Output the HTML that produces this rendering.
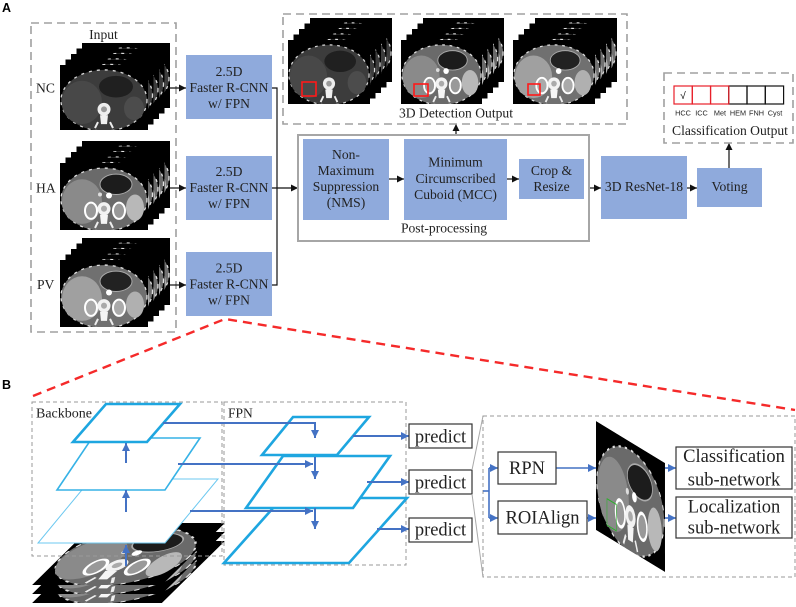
<!DOCTYPE html>
<html><head><meta charset="utf-8"><style>
html,body{margin:0;padding:0;background:#fff;}
svg{display:block;}
text{font-family:"Liberation Serif",serif;fill:#222;}
.s{font-family:"Liberation Sans",sans-serif;}
</style></head><body>
<svg width="796" height="607" viewBox="0 0 796 607" xmlns="http://www.w3.org/2000/svg" xmlns:xlink="http://www.w3.org/1999/xlink">
<defs>
<marker id="ak" markerUnits="userSpaceOnUse" markerWidth="8" markerHeight="7" refX="7" refY="3.5" orient="auto"><path d="M0,0 L7,3.5 L0,7 z" fill="#111"/></marker>
<marker id="ab" markerUnits="userSpaceOnUse" markerWidth="9" markerHeight="8" refX="8" refY="4" orient="auto"><path d="M0,0 L8,4 L0,8 z" fill="#4472c4"/></marker>
<symbol id="ctNC" viewBox="0 0 88 66" preserveAspectRatio="none">
<rect width="88" height="66" fill="#000"/>
<ellipse cx="44" cy="36" rx="43" ry="31" fill="#3c3c3c" stroke="#d8d8d8" stroke-width="1.3" stroke-dasharray="3 5"/>
<ellipse cx="22" cy="38" rx="20" ry="22" fill="#484848"/>
<ellipse cx="56" cy="22" rx="17" ry="11" fill="#202020"/>
<ellipse cx="74" cy="44" rx="10" ry="12" fill="#4c4c4c"/>
<circle cx="44" cy="45" r="6.5" fill="#eee"/><circle cx="44" cy="45" r="3" fill="#999"/>
<path d="M40,51 h8 l-1,9 h-6 z" fill="#f0f0f0"/>
<path d="M38,58 l-3,6 M50,58 l3,6" stroke="#eee" stroke-width="2"/>
</symbol>
<symbol id="ctHA" viewBox="0 0 88 66" preserveAspectRatio="none">
<rect width="88" height="66" fill="#000"/>
<ellipse cx="44" cy="36" rx="43" ry="31" fill="#6a6a6a" stroke="#e0e0e0" stroke-width="1.3" stroke-dasharray="3 5"/>
<ellipse cx="22" cy="38" rx="20" ry="22" fill="#8a8a8a"/>
<ellipse cx="56" cy="21" rx="16" ry="10" fill="#1c1c1c" stroke="#aaa" stroke-width="1"/>
<ellipse cx="75" cy="44" rx="9" ry="13" fill="#b8b8b8"/>
<ellipse cx="31" cy="47" rx="6" ry="8" fill="#999" stroke="#fff" stroke-width="2"/>
<ellipse cx="59" cy="47" rx="6" ry="8" fill="#999" stroke="#fff" stroke-width="2"/>
<circle cx="49" cy="32" r="3" fill="#fff"/><circle cx="40" cy="31" r="2" fill="#ddd"/>
<circle cx="44" cy="45" r="6.5" fill="#f2f2f2"/><circle cx="44" cy="45" r="3" fill="#aaa"/>
<path d="M40,51 h8 l-1,9 h-6 z" fill="#f5f5f5"/>
<path d="M38,58 l-3,6 M50,58 l3,6" stroke="#eee" stroke-width="2"/>
</symbol>
<symbol id="ctPV" viewBox="0 0 88 66" preserveAspectRatio="none">
<rect width="88" height="66" fill="#000"/>
<ellipse cx="44" cy="36" rx="43" ry="31" fill="#707070" stroke="#e0e0e0" stroke-width="1.3" stroke-dasharray="3 5"/>
<ellipse cx="22" cy="38" rx="20" ry="22" fill="#a0a0a0"/>
<ellipse cx="56" cy="21" rx="16" ry="10" fill="#222" stroke="#aaa" stroke-width="1"/>
<ellipse cx="75" cy="44" rx="9" ry="13" fill="#b0b0b0"/>
<ellipse cx="31" cy="47" rx="6" ry="8" fill="#aaa" stroke="#fff" stroke-width="2"/>
<ellipse cx="59" cy="47" rx="6" ry="8" fill="#aaa" stroke="#fff" stroke-width="2"/>
<circle cx="49" cy="32" r="3" fill="#fff"/>
<circle cx="44" cy="45" r="6.5" fill="#f2f2f2"/><circle cx="44" cy="45" r="3" fill="#aaa"/>
<path d="M40,51 h8 l-1,9 h-6 z" fill="#f5f5f5"/>
<path d="M38,58 l-3,6 M50,58 l3,6" stroke="#eee" stroke-width="2"/>
</symbol>
</defs>

<!-- ===== A ===== -->
<text x="2" y="12" class="s" style="font-size:12.5px;font-weight:bold;fill:#000">A</text>

<!-- Input box -->
<rect x="31" y="23" width="145" height="309" fill="none" stroke="#a0a0a0" stroke-width="1.6" stroke-dasharray="8 5"/>
<text x="103.5" y="39" text-anchor="middle" style="font-size:13.6px">Input</text>
<text x="36" y="92.5" style="font-size:13.6px">NC</text>
<text x="36" y="192.5" style="font-size:13.6px">HA</text>
<text x="37" y="289" style="font-size:13.6px">PV</text>

<!-- NC stack -->
<use xlink:href="#ctNC" href="#ctNC" x="82" y="43" width="88" height="65"/>
<use xlink:href="#ctNC" href="#ctNC" x="76.5" y="48.5" width="88" height="65"/>
<use xlink:href="#ctNC" href="#ctNC" x="71" y="54" width="88" height="65"/>
<use xlink:href="#ctNC" href="#ctNC" x="65.5" y="59.5" width="88" height="65"/>
<use xlink:href="#ctNC" href="#ctNC" x="60" y="65" width="88" height="65"/>
<!-- HA stack -->
<use xlink:href="#ctHA" href="#ctHA" x="82" y="141" width="88" height="67"/>
<use xlink:href="#ctHA" href="#ctHA" x="76.5" y="146.5" width="88" height="67"/>
<use xlink:href="#ctHA" href="#ctHA" x="71" y="152" width="88" height="67"/>
<use xlink:href="#ctHA" href="#ctHA" x="65.5" y="157.5" width="88" height="67"/>
<use xlink:href="#ctHA" href="#ctHA" x="60" y="163" width="88" height="67"/>
<!-- PV stack -->
<use xlink:href="#ctPV" href="#ctPV" x="82" y="238" width="88" height="67"/>
<use xlink:href="#ctPV" href="#ctPV" x="76.5" y="243.5" width="88" height="67"/>
<use xlink:href="#ctPV" href="#ctPV" x="71" y="249" width="88" height="67"/>
<use xlink:href="#ctPV" href="#ctPV" x="65.5" y="254.5" width="88" height="67"/>
<use xlink:href="#ctPV" href="#ctPV" x="60" y="260" width="88" height="67"/>

<!-- Faster R-CNN boxes -->
<g fill="#8faadc">
<rect x="186" y="55" width="86" height="64"/>
<rect x="186" y="156" width="86" height="64"/>
<rect x="186" y="252" width="86" height="64"/>
</g>
<g text-anchor="middle" style="font-size:13.6px">
<text x="229" y="76">2.5D</text><text x="229" y="92">Faster R-CNN</text><text x="229" y="108">w/ FPN</text>
<text x="229" y="176">2.5D</text><text x="229" y="192">Faster R-CNN</text><text x="229" y="208">w/ FPN</text>
<text x="229" y="272.5">2.5D</text><text x="229" y="288.5">Faster R-CNN</text><text x="229" y="304.5">w/ FPN</text>
</g>

<!-- black connectors -->
<g stroke="#111" stroke-width="1.2" fill="none">
<line x1="169" y1="88" x2="186" y2="88" marker-end="url(#ak)"/>
<line x1="170" y1="188" x2="186" y2="188" marker-end="url(#ak)"/>
<line x1="170" y1="285" x2="186" y2="285" marker-end="url(#ak)"/>
<polyline points="272,88 277,88 277,285 272,285"/>
<line x1="272" y1="188" x2="298" y2="188" marker-end="url(#ak)"/>
<line x1="389" y1="179" x2="404" y2="179" marker-end="url(#ak)"/>
<line x1="507" y1="179" x2="519" y2="179" marker-end="url(#ak)"/>
<line x1="589" y1="188" x2="601" y2="188" marker-end="url(#ak)"/>
<line x1="687" y1="188" x2="697" y2="188" marker-end="url(#ak)"/>
<line x1="729" y1="168" x2="729" y2="143" marker-end="url(#ak)"/>
<line x1="456" y1="135" x2="456" y2="124" marker-end="url(#ak)"/>
</g>

<!-- 3D Detection output -->
<rect x="283" y="14" width="344" height="110" fill="none" stroke="#a0a0a0" stroke-width="1.6" stroke-dasharray="8 5"/>
<use xlink:href="#ctNC" href="#ctNC" x="310" y="18" width="82" height="64"/>
<use xlink:href="#ctNC" href="#ctNC" x="304.5" y="23.5" width="82" height="64"/>
<use xlink:href="#ctNC" href="#ctNC" x="299" y="29" width="82" height="64"/>
<use xlink:href="#ctNC" href="#ctNC" x="293.5" y="34.5" width="82" height="64"/>
<use xlink:href="#ctNC" href="#ctNC" x="288" y="40" width="82" height="64"/>
<use xlink:href="#ctHA" href="#ctHA" x="423" y="18" width="81" height="64"/>
<use xlink:href="#ctHA" href="#ctHA" x="417.5" y="23.5" width="81" height="64"/>
<use xlink:href="#ctHA" href="#ctHA" x="412" y="29" width="81" height="64"/>
<use xlink:href="#ctHA" href="#ctHA" x="406.5" y="34.5" width="81" height="64"/>
<use xlink:href="#ctHA" href="#ctHA" x="401" y="40" width="81" height="64"/>
<use xlink:href="#ctPV" href="#ctPV" x="535" y="18" width="82" height="64"/>
<use xlink:href="#ctPV" href="#ctPV" x="529.5" y="23.5" width="82" height="64"/>
<use xlink:href="#ctPV" href="#ctPV" x="524" y="29" width="82" height="64"/>
<use xlink:href="#ctPV" href="#ctPV" x="518.5" y="34.5" width="82" height="64"/>
<use xlink:href="#ctPV" href="#ctPV" x="513" y="40" width="82" height="64"/>
<g fill="none" stroke="#ff1a1a" stroke-width="1.6">
<rect x="302" y="82" width="14" height="14"/>
<rect x="414" y="84" width="14" height="12"/>
<rect x="528" y="84" width="12" height="11"/>
</g>
<text x="456" y="117.5" text-anchor="middle" style="font-size:13.6px">3D Detection Output</text>

<!-- Post-processing -->
<rect x="298" y="135" width="291" height="106" fill="none" stroke="#a6a6a6" stroke-width="2"/>
<g fill="#8faadc">
<rect x="303" y="139" width="86" height="81"/>
<rect x="404" y="139" width="103" height="81"/>
<rect x="519" y="159" width="65" height="40"/>
<rect x="601" y="156" width="86" height="63"/>
<rect x="697" y="168" width="65" height="39"/>
</g>
<g text-anchor="middle" style="font-size:13.6px">
<text x="346" y="159">Non-</text><text x="346" y="175">Maximum</text><text x="346" y="191">Suppression</text><text x="346" y="207">(NMS)</text>
<text x="455.5" y="166.5">Minimum</text><text x="455.5" y="183">Circumscribed</text><text x="455.5" y="199">Cuboid (MCC)</text>
<text x="551.5" y="175">Crop &amp;</text><text x="551.5" y="191">Resize</text>
<text x="444" y="232.5">Post-processing</text>
<text x="644" y="191">3D ResNet-18</text>
<text x="729.5" y="191">Voting</text>
</g>

<!-- Classification output -->
<rect x="664" y="73" width="129" height="70" fill="none" stroke="#a0a0a0" stroke-width="1.6" stroke-dasharray="8 5"/>
<g fill="none" stroke-width="1.2">
<rect x="728.7" y="86" width="18.3" height="18" stroke="#111"/>
<rect x="747" y="86" width="18.3" height="18" stroke="#111"/>
<rect x="765.3" y="86" width="18.3" height="18" stroke="#111"/>
<rect x="674" y="86" width="18.3" height="18" stroke="#e8202a"/>
<rect x="692.3" y="86" width="18.3" height="18" stroke="#e8202a"/>
<rect x="710.5" y="86" width="18.3" height="18" stroke="#e8202a"/>
</g>
<text x="683" y="99" text-anchor="middle" class="s" style="font-size:10px;fill:#000">√</text>
<g class="s" text-anchor="middle" style="font-size:7.3px">
<text class="s" x="683" y="115.5">HCC</text>
<text class="s" x="701.5" y="115.5">ICC</text>
<text class="s" x="720" y="115.5">Met</text>
<text class="s" x="738" y="115.5">HEM</text>
<text class="s" x="756.5" y="115.5">FNH</text>
<text class="s" x="775" y="115.5">Cyst</text>
</g>
<text x="730" y="135" text-anchor="middle" style="font-size:13.6px">Classification Output</text>

<!-- red dashed zoom lines -->
<polyline points="33,396 225,319 795,410" fill="none" stroke="#f52a2a" stroke-width="2.4" stroke-dasharray="9 6"/>

<!-- ===== B ===== -->
<text x="2" y="389" class="s" style="font-size:12.5px;font-weight:bold;fill:#000">B</text>

<!-- CT stack in backbone -->
<use xlink:href="#ctHA" href="#ctHA" width="88" height="66" transform="matrix(1.477,0,-0.9545,0.939,95,541)"/>
<use xlink:href="#ctHA" href="#ctHA" width="88" height="66" transform="matrix(1.477,0,-0.9545,0.939,95,532)"/>
<use xlink:href="#ctHA" href="#ctHA" width="88" height="66" transform="matrix(1.477,0,-0.9545,0.939,95,523)"/>

<!-- Backbone / FPN boxes -->
<rect x="32" y="402" width="190" height="154" fill="none" stroke="#999" stroke-width="1" stroke-dasharray="4 3"/>
<rect x="224" y="402" width="182" height="163" fill="none" stroke="#999" stroke-width="1" stroke-dasharray="4 3"/>
<text x="36" y="417.5" style="font-size:14px">Backbone</text>
<text x="228" y="417.5" style="font-size:13.5px">FPN</text>

<!-- backbone planes -->
<polygon points="91,479 218,479 165,543 38,543" fill="#fff" stroke="#6cc8f0" stroke-width="1"/>
<polygon points="92,438 200,438 165,490 57,490" fill="#fff" stroke="#36b2e6" stroke-width="1.6"/>
<polygon points="106,404 180,404 147,442 73,442" fill="#fff" stroke="#1ea6e0" stroke-width="2.6"/>

<!-- FPN planes -->
<polygon points="282,498 407,498 349,563 224,563" fill="#fff" stroke="#1ea6e0" stroke-width="2.6"/>
<polygon points="283,456 390,456 353,508 246,508" fill="#fff" stroke="#1ea6e0" stroke-width="2.6"/>
<polygon points="293,417 369,417 337,455 262,455" fill="#fff" stroke="#1ea6e0" stroke-width="2.6"/>

<!-- blue arrows -->
<g stroke="#4472c4" stroke-width="2" fill="none">
<line x1="126" y1="463" x2="126" y2="443" marker-end="url(#ab)"/>
<line x1="126" y1="512" x2="126" y2="490" marker-end="url(#ab)"/>
<line x1="126" y1="566" x2="126" y2="545" marker-end="url(#ab)"/>
<polyline points="163,423 315,423 315,438" marker-end="url(#ab)"/>
<line x1="178" y1="464" x2="313" y2="464" marker-end="url(#ab)"/>
<line x1="190" y1="511" x2="313" y2="511" marker-end="url(#ab)"/>
<line x1="315" y1="457" x2="315" y2="479" marker-end="url(#ab)"/>
<line x1="315" y1="508" x2="315" y2="529" marker-end="url(#ab)"/>
<line x1="353" y1="436" x2="409" y2="436" marker-end="url(#ab)"/>
<line x1="367" y1="482" x2="409" y2="482" marker-end="url(#ab)"/>
<line x1="377" y1="529" x2="409" y2="529" marker-end="url(#ab)"/>
</g>

<!-- predict boxes -->
<g fill="#fff" stroke="#333" stroke-width="1.2">
<rect x="409" y="424" width="63" height="24"/>
<rect x="409" y="470" width="63" height="24"/>
<rect x="409" y="518" width="63" height="24"/>
</g>
<g text-anchor="middle" style="font-size:18.5px">
<text x="440.5" y="442.5">predict</text>
<text x="440.5" y="488.5">predict</text>
<text x="440.5" y="535.5">predict</text>
</g>

<!-- expansion lines -->
<g stroke="#aaa" stroke-width="1">
<line x1="472" y1="470" x2="483" y2="416"/>
<line x1="472" y1="494" x2="483" y2="577"/>
</g>
<rect x="483" y="416" width="312" height="161" fill="none" stroke="#999" stroke-width="1" stroke-dasharray="4 3"/>

<!-- detection head -->
<g stroke="#4472c4" stroke-width="1.6" fill="none">
<polyline points="483,491 489,491"/>
<line x1="489" y1="468" x2="489" y2="518"/>
<line x1="489" y1="468" x2="498" y2="468" marker-end="url(#ab)"/>
<line x1="489" y1="518" x2="498" y2="518" marker-end="url(#ab)"/>
<line x1="556" y1="468" x2="596" y2="468" marker-end="url(#ab)"/>
<line x1="587" y1="518" x2="596" y2="518" marker-end="url(#ab)"/>
<line x1="665" y1="468" x2="676" y2="468" marker-end="url(#ab)"/>
<line x1="665" y1="518" x2="676" y2="518" marker-end="url(#ab)"/>
</g>
<g fill="#fff" stroke="#333" stroke-width="1.2">
<rect x="498" y="452" width="58" height="32"/>
<rect x="498" y="501" width="89" height="33"/>
<rect x="676" y="447" width="116" height="42"/>
<rect x="676" y="497" width="116" height="41"/>
</g>
<g text-anchor="middle" style="font-size:18.5px">
<text x="527" y="474">RPN</text>
<text x="542.5" y="523.5">ROIAlign</text>
<text x="734" y="462">Classification</text>
<text x="734" y="485.5">sub-network</text>
<text x="734" y="512.5">Localization</text>
<text x="734" y="533.5">sub-network</text>
</g>

<!-- skewed CT -->
<use xlink:href="#ctHA" href="#ctHA" width="88" height="66" transform="matrix(0.784,0.477,0,1.652,596,421)"/>
<g transform="matrix(0.784,0.477,0,1.652,596,421)">
<rect x="14" y="43" width="12" height="16" fill="none" stroke="#2bb02b" stroke-width="0.7"/>
</g>
</svg>
</body></html>
